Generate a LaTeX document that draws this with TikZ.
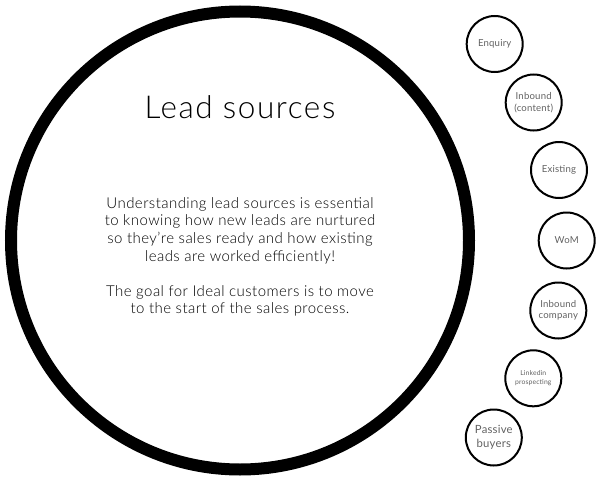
\documentclass[tikz,border=0pt]{standalone}
\usepackage{fontspec}
\setmainfont{Lato Light}[LetterSpace=3]
\newfontfamily\titlefont{Lato Light}[LetterSpace=5]
\newfontfamily\smallfont{Lato}[LetterSpace=2]
\begin{document}
\begin{tikzpicture}[x=1pt,y=-1pt,
  src/.style={circle,draw=black,line width=2pt,minimum size=56pt,inner sep=0pt,align=center,text=black!62,font=\smallfont\fontsize{9.6}{11.5}\selectfont},
  big/.style={circle,draw=black,line width=12pt,minimum size=458pt,inner sep=0pt}]
\useasboundingbox (0,0) rectangle (600,479);
\node[big] (main) at (240,240.5) {};
\node (title) at (240,107) {\titlefont\fontsize{31.5}{36}\selectfont Lead sources};
\node[align=center,font=\fontsize{15}{17.6}\selectfont] (body) at (240,257) {Understanding lead sources is essential\\to knowing how new leads are nurtured\\so they're sales ready and how existing\\leads are worked efficiently!\\[17.6pt]The goal for Ideal customers is to move\\to the start of the sales process.};
\node[src] (enq) at (494.7,44) {Enquiry};
\node[src] (inc) at (533.7,102.5) {Inbound\\(content)};
\node[src] (ex) at (559,170) {Existing};
\node[src] (wom) at (566.7,240.5) {WoM};
\node[src] (inco) at (558.3,310.5) {Inbound\\company};
\node[src,font=\smallfont\fontsize{6.8}{8.5}\selectfont] (li) at (533.3,378.3) {Linkedin\\prospecting};
\node[src,font=\smallfont\fontsize{11.3}{13.5}\selectfont] (pas) at (493.8,437.5) {Passive\\buyers};
\end{tikzpicture}
\end{document}
